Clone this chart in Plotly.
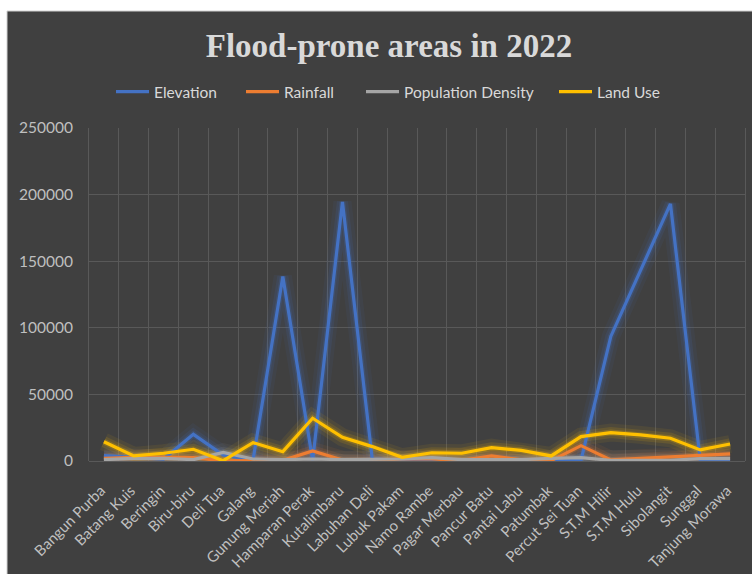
import plotly.graph_objects as go

categories = ["Bangun Purba", "Batang Kuis", "Beringin", "Biru-biru", "Deli Tua", "Galang",
              "Gunung Meriah", "Hamparan Perak", "Kutalimbaru", "Labuhan Deli", "Lubuk Pakam",
              "Namo Rambe", "Pagar Merbau", "Pancur Batu", "Pantai Labu", "Patumbak",
              "Percut Sei Tuan", "S.T.M Hilir", "S.T.M Hulu", "Sibolangit", "Sunggal",
              "Tanjung Morawa"]
elevation = [4000, 2500, 1500, 20000, 4500, 500, 138500, 500, 194500, 1500, 500, 500,
             300, 300, 300, 300, 500, 93500, 143000, 193000, 700, 500]
rainfall = [2000, 2800, 2800, 2500, 200, 500, 500, 7500, 800, 500, 1500, 1500,
            500, 3800, 800, 300, 11500, 800, 2000, 3200, 4300, 5300]
population = [1000, 2000, 2000, 1000, 6500, 1500, 1000, 1500, 1000, 1000, 1500, 2500,
              1000, 1000, 1000, 2000, 2500, 500, 500, 500, 1800, 1800]
land_use = [14500, 3800, 5800, 8800, 200, 13800, 7000, 32100, 17800, 10800, 2800, 6200,
            5800, 10000, 8000, 3800, 18300, 21300, 19600, 17100, 8300, 12800]

series = [("Elevation", elevation, "#4472C4"),
          ("Rainfall", rainfall, "#ED7D31"),
          ("Population Density", population, "#A5A5A5"),
          ("Land Use", land_use, "#FFC000")]
legend_ids = ["legend", "legend2", "legend3", "legend4"]
legend_px = [111, 241, 361, 554]

fig = go.Figure()
# soft glow underlays
for name, vals, col in series:
    for w, op in [(18, 0.07), (11, 0.12), (6, 0.2)]:
        fig.add_trace(go.Scatter(x=categories, y=vals, mode="lines", showlegend=False,
                                 hoverinfo="skip", opacity=op,
                                 line=dict(color=col, width=w)))
for (name, vals, col), lid in zip(series, legend_ids):
    fig.add_trace(go.Scatter(x=categories, y=vals, mode="lines", name=name, legend=lid,
                             line=dict(color=col, width=3.2)))

L, R, T, B = 89, 7, 128, 113
W, H = 752, 574
pw, ph = W - L - R, H - T - B

def px_x(p):
    return (p - L) / pw

def px_y(p):
    return (H - B - p) / ph

fig.add_shape(type="rect", xref="paper", yref="paper", layer="below",
              x0=px_x(7), x1=px_x(753), y0=px_y(575), y1=px_y(11),
              fillcolor="#404040", line=dict(color="#d0d0d0", width=1))

legend_style = dict(orientation="h", xanchor="left", y=px_y(92), yanchor="middle",
                    bgcolor="rgba(0,0,0,0)", itemwidth=33,
                    font=dict(family="Lato", size=15.5, color="#d9d9d9"))
legends = {lid: dict(legend_style, x=px_x(p)) for lid, p in zip(legend_ids, legend_px)}

fig.update_layout(
    width=W, height=H,
    margin=dict(l=L, r=R, t=T, b=B),
    paper_bgcolor="white",
    plot_bgcolor="rgba(0,0,0,0)",
    font=dict(family="Lato", size=15, color="#bfbfbf"),
    title=dict(text="<b>Flood-prone areas in 2022</b>", x=389 / W,
               xanchor="center", y=1 - 45 / H, yanchor="middle",
               font=dict(family="Liberation Serif", size=33, color="#d9d9d9")),
    showlegend=True,
    **legends,
)
fig.update_xaxes(type="category", range=[-0.5, len(categories) - 0.5],
                 tickson="boundaries", showgrid=True, gridcolor="#595959",
                 gridwidth=1, tickangle=-45, ticks="", showline=False, automargin=False,
                 ticklabelshift=-3, ticklabelstandoff=17,
                 tickfont=dict(family="Lato", size=15, color="#bfbfbf"))
fig.update_yaxes(range=[0, 250000], dtick=50000, showgrid=True, gridcolor="#595959",
                 gridwidth=1, zeroline=True, zerolinecolor="#595959", zerolinewidth=1,
                 showline=True, mirror=True, linecolor="#595959", linewidth=1,
                 ticks="", ticklabelstandoff=12, tickformat="d", automargin=False,
                 tickfont=dict(family="Lato", size=15.5, color="#bfbfbf"))

fig.write_html("out.html")
